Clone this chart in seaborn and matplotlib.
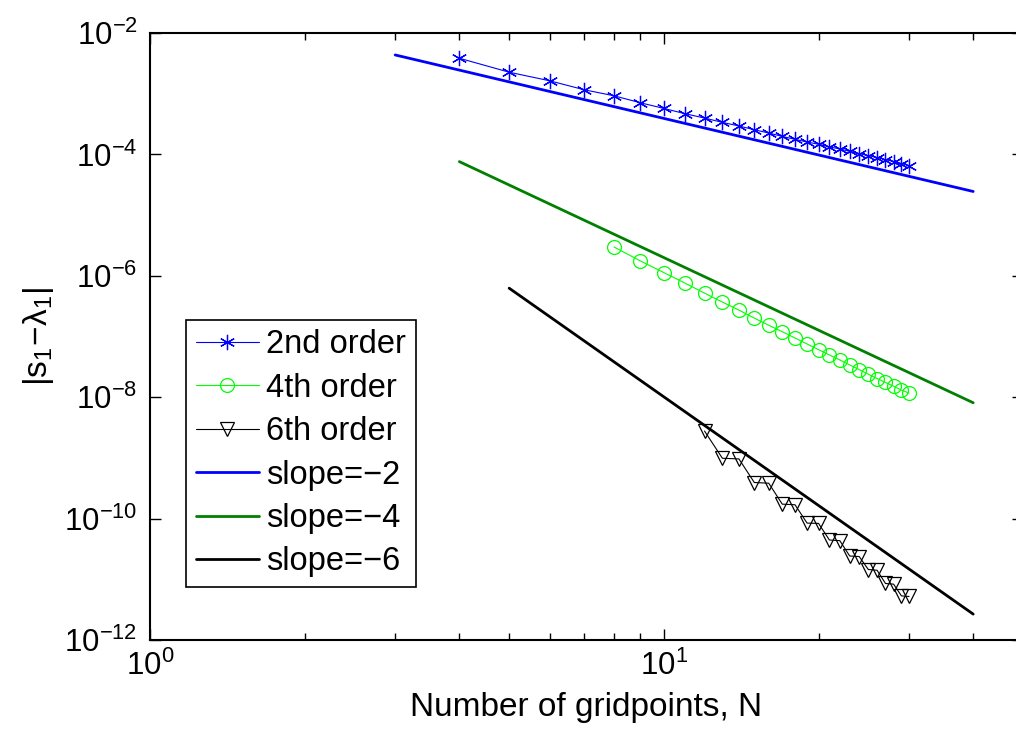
import numpy as np
import pandas as pd
import matplotlib
matplotlib.use("Agg")
import matplotlib.pyplot as plt
import matplotlib.ticker as mticker
import seaborn as sns

# ---- data ----
n2 = [4, 5, 6, 7, 8, 9, 10, 11, 12, 13, 14, 15, 16, 17, 18, 19, 20, 21, 22, 23, 24, 25, 26, 27, 28, 29, 30]
err2 = [3.84e-3, 2.26e-3, 1.63e-3, 1.16e-3, 9.24e-4, 7.09e-4, 5.72e-4, 4.68e-4, 3.97e-4, 3.37e-4,
        2.94e-4, 2.55e-4, 2.25e-4, 1.98e-4, 1.77e-4, 1.60e-4, 1.47e-4, 1.33e-4, 1.23e-4, 1.12e-4,
        1.03e-4, 9.55e-5, 8.86e-5, 8.22e-5, 7.62e-5, 7.06e-5, 6.55e-5]

n4 = [8, 9, 10, 11, 12, 13, 14, 15, 16, 17, 18, 19, 20, 21, 22, 23, 24, 25, 26, 27, 28, 29, 30]
err4 = [2.98e-6, 1.76e-6, 1.13e-6, 7.56e-7, 5.18e-7, 3.69e-7, 2.72e-7, 2.01e-7, 1.53e-7, 1.20e-7,
        9.45e-8, 7.53e-8, 6.07e-8, 4.97e-8, 4.11e-8, 3.40e-8, 2.85e-8, 2.39e-8, 2.03e-8, 1.75e-8,
        1.52e-8, 1.31e-8, 1.17e-8]

n6 = [12, 13, 14, 15, 16, 17, 18, 19, 20, 21, 22, 23, 24, 25, 26, 27, 28, 29, 30]
err6 = [2.77e-9, 9.86e-10, 9.62e-10, 3.93e-10, 3.83e-10, 1.73e-10, 1.69e-10, 8.43e-11, 8.34e-11,
        4.44e-11, 4.33e-11, 2.42e-11, 2.37e-11, 1.45e-11, 1.41e-11, 8.53e-12, 8.32e-12, 5.33e-12, 5.21e-12]

ref2_n = [3, 40]
ref2_y = [4.35e-3, 2.45e-5]
ref4_n = [4, 40]
ref4_y = [7.6e-5, 8.1e-9]
ref6_n = [5, 40]
ref6_y = [6.25e-7, 2.67e-12]

labels = ["2nd order", "4th order", "6th order", "slope=\u22122", "slope=\u22124", "slope=\u22126"]
ytick_vals = [1e-12, 1e-10, 1e-8, 1e-6, 1e-4, 1e-2]

# ---- style ----
sns.set_style("ticks")
plt.rcParams["font.family"] = ["Liberation Sans", "DejaVu Sans"]
plt.rcParams["mathtext.fontset"] = "custom"
plt.rcParams["mathtext.rm"] = "Liberation Sans"
plt.rcParams["mathtext.it"] = "Liberation Sans"
plt.rcParams["mathtext.bf"] = "Liberation Sans:bold"
plt.rcParams["text.color"] = "black"
plt.rcParams["axes.labelcolor"] = "black"
plt.rcParams["xtick.color"] = "black"
plt.rcParams["ytick.color"] = "black"

fig = plt.figure(figsize=(10.16, 7.34), dpi=100)
ax = fig.add_axes([150 / 1016, 1 - 640 / 734, (1023 - 150) / 1016, (640 - 33) / 734])

sns.lineplot(x=n2, y=err2, ax=ax, color="#0000ff", lw=0.8, marker=(6, 2, 0), markersize=11,
             markeredgecolor="#0000ff", markeredgewidth=0.9, label=labels[0])
sns.lineplot(x=n4, y=err4, ax=ax, color="#00ff00", lw=0.8, marker="o", markersize=10,
             markerfacecolor="none", markeredgecolor="#00ff00", markeredgewidth=0.9, label=labels[1])
sns.lineplot(x=n6, y=err6, ax=ax, color="black", lw=0.8, marker="v", markersize=10,
             markerfacecolor="none", markeredgecolor="black", markeredgewidth=0.9, label=labels[2])
sns.lineplot(x=ref2_n, y=ref2_y, ax=ax, color="#0000ff", lw=2.0, label=labels[3])
sns.lineplot(x=ref4_n, y=ref4_y, ax=ax, color="#008000", lw=2.0, label=labels[4])
sns.lineplot(x=ref6_n, y=ref6_y, ax=ax, color="black", lw=2.0, label=labels[5])

ax.set_xscale("log")
ax.set_yscale("log")
ax.set_xlim(1, 50)
ax.set_ylim(1e-12, 1e-2)
ax.set_yticks(ytick_vals)
ax.yaxis.set_minor_locator(mticker.NullLocator())
ax.xaxis.set_minor_locator(mticker.LogLocator(base=10, subs=np.arange(2, 10), numticks=20))
ax.xaxis.set_minor_formatter(mticker.NullFormatter())

ax.tick_params(which="both", direction="in", top=True, right=True, labelsize=22.5, width=1.0,
               color="black", labelcolor="black")
ax.tick_params(which="major", length=8)
ax.tick_params(which="minor", length=5)
ax.tick_params(axis="x", pad=8)
ax.tick_params(axis="y", pad=9)
for s in ax.spines.values():
    s.set_linewidth(1.5)
    s.set_color("black")

ax.set_xlabel("Number of gridpoints, N", fontsize=24, labelpad=7, color="black")
ax.set_ylabel(r"$\mathrm{|s_1\!-\!\lambda_1|}$", fontsize=24, labelpad=6, color="black")

leg = ax.legend(loc="lower left", bbox_to_anchor=(0.041, 0.087), borderaxespad=0,
                fontsize=23.5, frameon=True, fancybox=False, framealpha=1, edgecolor="black",
                handlelength=1.95, handletextpad=0.22, labelspacing=0.38, borderpad=0.3)
leg.get_frame().set_linewidth(1.2)
for t in leg.get_texts():
    t.set_color("black")

fig.savefig("out.png", dpi=100)
